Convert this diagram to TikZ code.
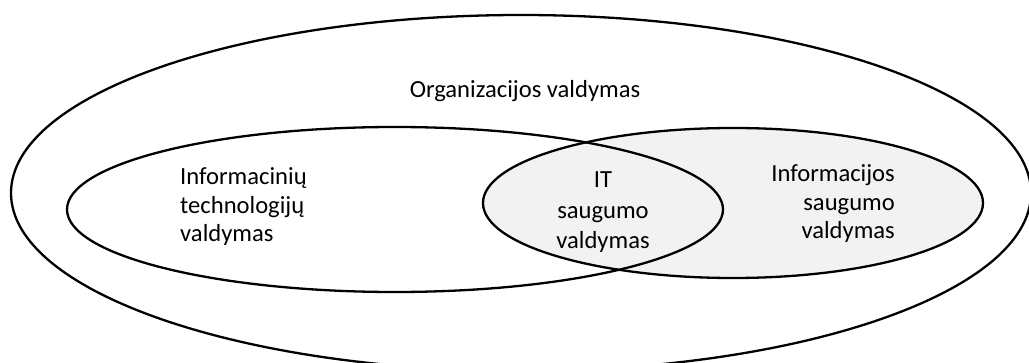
\documentclass[tikz,border=0pt]{standalone}
\usepackage{fontspec}
\setmainfont{Carlito}
\definecolor{lensgray}{HTML}{F2F2F2}
\tikzset{
  venn/.style={draw=black, line width=2.3pt},
  lbl/.style={font=\fontsize{24.6}{28.5}\selectfont, inner sep=0pt, text=black},
  lblwide/.style={lbl, font=\fontsize{24.6}{30.5}\selectfont}
}
\begin{document}
\begin{tikzpicture}[x=1pt, y=-1pt]
  \useasboundingbox (0,0) rectangle (1029,363);
  \clip (0,0) rectangle (1029,363);
  % shaded security set, then the outlines on top
  \fill[lensgray] (733,203) ellipse [x radius=250, y radius=75];
  \draw[venn] (395,209.5) ellipse [x radius=328, y radius=82.5];
  \draw[venn] (733,203) ellipse [x radius=250, y radius=75];
  \draw[venn] (521,193) ellipse [x radius=510, y radius=178];
  % labels (base anchor = baseline of the last line)
  \node[lbl, anchor=base] (org) at (525,98) {Organizacijos valdymas};
  \node[lbl, align=left, anchor=base west] (itm) at (180,242) {Informacinių\\technologijų\\valdymas};
  \node[lblwide, align=center, anchor=base] (its) at (603,249) {IT\\saugumo\\valdymas};
  \node[lbl, align=right, anchor=base east] (ism) at (895,239) {Informacijos\\saugumo\\valdymas};
\end{tikzpicture}
\end{document}
